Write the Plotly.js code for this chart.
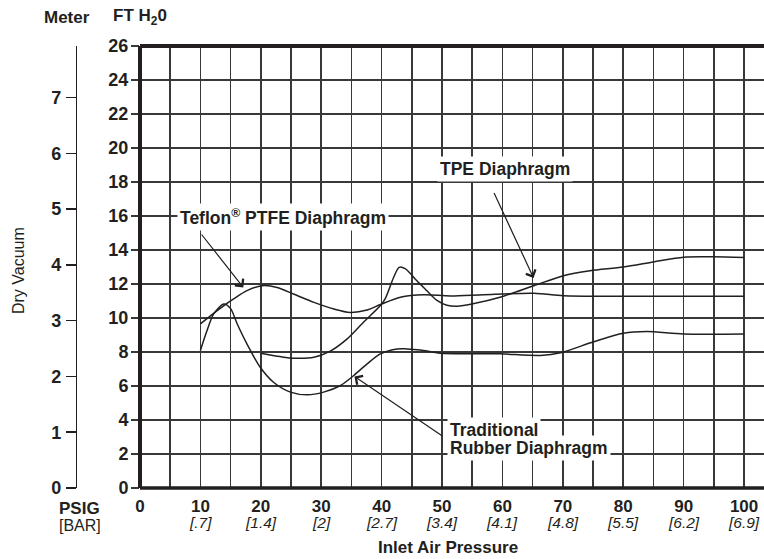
<!DOCTYPE html>
<html><head><meta charset="utf-8">
<script src="https://cdn.plot.ly/plotly-3.0.1.min.js"></script>
<style>html,body{margin:0;padding:0;background:#fff}</style>
</head><body><div id="chart" style="width:764px;height:559px"></div>
<script>
// ---- data ----
const teflonX = [10, 11.7, 13.9, 15.5, 17.7, 20.2, 22.7, 25.4, 28.8, 32.1, 34.8, 37.6, 39.8, 43.1, 47.0, 51.4, 56.9, 65.2, 70.1, 79.0, 90.0, 100];
const teflonY = [9.65, 10.14, 10.73, 11.12, 11.61, 11.90, 11.80, 11.41, 10.92, 10.53, 10.33, 10.47, 10.79, 11.22, 11.37, 11.30, 11.37, 11.45, 11.31, 11.28, 11.28, 11.28];

const tpeX = [20, 23.2, 25.7, 28.8, 31.5, 34.3, 37.0, 39.8, 40.6, 42.0, 42.9, 43.9, 44.8, 45.8, 47.5, 49.1, 50.8, 52.5, 55.3, 59.6, 65.2, 70.1, 74.5, 80.0, 85.0, 90.0, 95.0, 100];
const tpeY = [7.93, 7.73, 7.63, 7.69, 8.05, 8.77, 9.75, 10.73, 11.14, 12.4, 12.98, 12.9, 12.6, 12.2, 11.6, 11.05, 10.75, 10.69, 10.85, 11.22, 11.90, 12.49, 12.78, 13.0, 13.3, 13.58, 13.6, 13.56];

const rubberX = [10, 11.1, 12.2, 13.9, 15.0, 16.1, 17.7, 19.9, 22.1, 24.9, 27.7, 30.4, 33.2, 35.4, 37.6, 39.8, 42.6, 44.2, 46.4, 49.7, 55.0, 59.6, 66.3, 69.6, 75.1, 80.0, 83.9, 90.0, 100];
const rubberY = [8.09, 9.26, 10.24, 10.83, 10.55, 9.65, 8.48, 7.1, 6.22, 5.64, 5.48, 5.64, 6.03, 6.62, 7.3, 7.89, 8.18, 8.18, 8.12, 7.93, 7.9, 7.89, 7.8, 7.95, 8.6, 9.1, 9.2, 9.06, 9.06];

const psigTickVals = [0, 5, 10, 15, 20, 25, 30, 35, 40, 45, 50, 55, 60, 65, 70, 75, 80, 85, 90, 95, 100];
const psigTickText = ['0', '', '10', '', '20', '', '30', '', '40', '', '50', '', '60', '', '70', '', '80', '', '90', '', '100'];
const barVals = [10, 20, 30, 40, 50, 60, 70, 80, 90, 100];
const barText = ['[.7]', '[1.4]', '[2]', '[2.7]', '[3.4]', '[4.1]', '[4.8]', '[5.5]', '[6.2]', '[6.9]'];
const ftTickVals = [0, 2, 4, 6, 8, 10, 12, 14, 16, 18, 20, 22, 24, 26];
const meterTickVals = [0, 1, 2, 3, 4, 5, 6, 7];
const FT_TO_M = 0.3048;

// ---- styles ----
const INK = '#231f20';
const GRID = '#383838';
const FONT = 'Liberation Sans, Arial, Helvetica, sans-serif';

function curve(x, y) {
  return {x: x, y: y, type: 'scatter', mode: 'lines', hoverinfo: 'skip',
    line: {color: INK, width: 1.5, shape: 'spline', smoothing: 0.8}};
}
const data = [curve(teflonX, teflonY), curve(tpeX, tpeY), curve(rubberX, rubberY),
  // carrier so the metre axis is drawn
  {x: [null], y: [null], yaxis: 'y2', type: 'scatter', mode: 'lines', hoverinfo: 'skip', showlegend: false}];

const annotations = [];
function bold(size, color) { return {family: FONT, size: size, color: color || INK, weight: 'bold'}; }
function label(text, x, y, opts) {
  annotations.push(Object.assign({text: text, x: x, y: y, showarrow: false,
    xanchor: 'center', yanchor: 'middle', font: bold(17.5)}, opts || {}));
}
// curve labels
label('Teflon<sup>®</sup> PTFE Diaphragm', 23.7, 15.95, {xref: 'x', yref: 'y', bgcolor: '#fff', borderpad: 2});
label('TPE Diaphragm', 60.5, 18.75, {xref: 'x', yref: 'y', bgcolor: '#fff', borderpad: 2});
// white backing boxes first, then the two text lines on top
label('Traditional', 50.9, 3.41, {xref: 'x', yref: 'y', xanchor: 'left', bgcolor: '#fff', borderpad: 2, font: bold(17.5, 'rgba(0,0,0,0)')});
label('Rubber Diaphragm', 50.9, 2.34, {xref: 'x', yref: 'y', xanchor: 'left', bgcolor: '#fff', borderpad: 2, font: bold(17.5, 'rgba(0,0,0,0)')});
label('Traditional', 50.9, 3.41, {xref: 'x', yref: 'y', xanchor: 'left', borderpad: 2});
label('Rubber Diaphragm', 50.9, 2.34, {xref: 'x', yref: 'y', xanchor: 'left', borderpad: 2});
// arrows
function arrow(x, y, ax, ay) {
  annotations.push({text: '', x: x, y: y, ax: ax, ay: ay, xref: 'x', yref: 'y', axref: 'x', ayref: 'y',
    showarrow: true, arrowhead: 4, arrowsize: 1.7, arrowwidth: 1.2, arrowcolor: INK, standoff: 0, startstandoff: 0});
}
arrow(17.1, 11.8, 10.0, 15.0);
arrow(65.15, 12.36, 58.5, 17.44);
arrow(35.5, 6.56, 50.3, 3.0);
// outer labels
label('Meter', 0.0373, 1.0656, {xref: 'paper', yref: 'paper', font: bold(17)});
label('FT H<sub>2</sub>0', 0.1381, 1.0656, {xref: 'paper', yref: 'paper', font: bold(17)});
label('Dry Vacuum', -0.0304, 0.493, {xref: 'paper', yref: 'paper', textangle: -90, font: {family: FONT, size: 16, color: INK}});
label('PSIG', 0.0552, -0.0465, {xref: 'paper', yref: 'paper', font: bold(17)});
label('[BAR]', 0.0552, -0.0845, {xref: 'paper', yref: 'paper', font: {family: FONT, size: 16, color: INK}});
label('Inlet Air Pressure', 0.5635, -0.1357, {xref: 'paper', yref: 'paper', font: bold(17)});
barVals.forEach(function (v, i) {
  label(barText[i], v, -0.0785, {xref: 'x', yref: 'paper', font: {family: FONT, size: 15.5, color: INK, style: 'italic'}});
});

const layout = {
  width: 764, height: 559,
  margin: {l: 40, r: 0, t: 46, b: 71, pad: 0},
  paper_bgcolor: '#fff', plot_bgcolor: '#fff',
  showlegend: false,
  font: {family: FONT, color: INK},
  xaxis: {domain: [0.13812, 1], range: [0, 103.3], tickmode: 'array', tickvals: psigTickVals, ticktext: psigTickText,
    showgrid: true, gridcolor: GRID, gridwidth: 1.6, zeroline: false, showline: false, ticks: '', ticklabelstandoff: 6,
    tickfont: bold(17), fixedrange: true},
  yaxis: {range: [0, 26], tickmode: 'array', tickvals: ftTickVals, ticks: 'outside', ticklen: 8, tickwidth: 1.6, tickcolor: GRID,
    showgrid: true, gridcolor: GRID, gridwidth: 1.6, zeroline: false, showline: false, ticklabelstandoff: -1,
    tickfont: bold(18), fixedrange: true},
  yaxis2: {overlaying: 'y', anchor: 'free', position: 0.0497, side: 'left', range: [0, 26 * FT_TO_M],
    tickmode: 'array', tickvals: meterTickVals, ticks: 'outside', ticklen: 10, tickwidth: 1.5, tickcolor: INK,
    showline: true, linewidth: 1.5, linecolor: INK, showgrid: false, zeroline: false, ticklabelstandoff: 1,
    tickfont: bold(18), fixedrange: true},
  shapes: [
    {type: 'line', xref: 'paper', yref: 'paper', x0: 0.13812, x1: 0.13812, y0: 0, y1: 1, line: {color: INK, width: 4}},
    {type: 'line', xref: 'paper', yref: 'paper', x0: 0.13812, x1: 1, y0: 0, y1: 0, line: {color: INK, width: 3.5}},
    {type: 'line', xref: 'paper', yref: 'paper', x0: 0.13812, x1: 1, y0: 1, y1: 1, line: {color: INK, width: 4}}
  ],
  annotations: annotations
};

Plotly.newPlot('chart', data, layout, {displayModeBar: false, staticPlot: true});
</script>
</body></html>
